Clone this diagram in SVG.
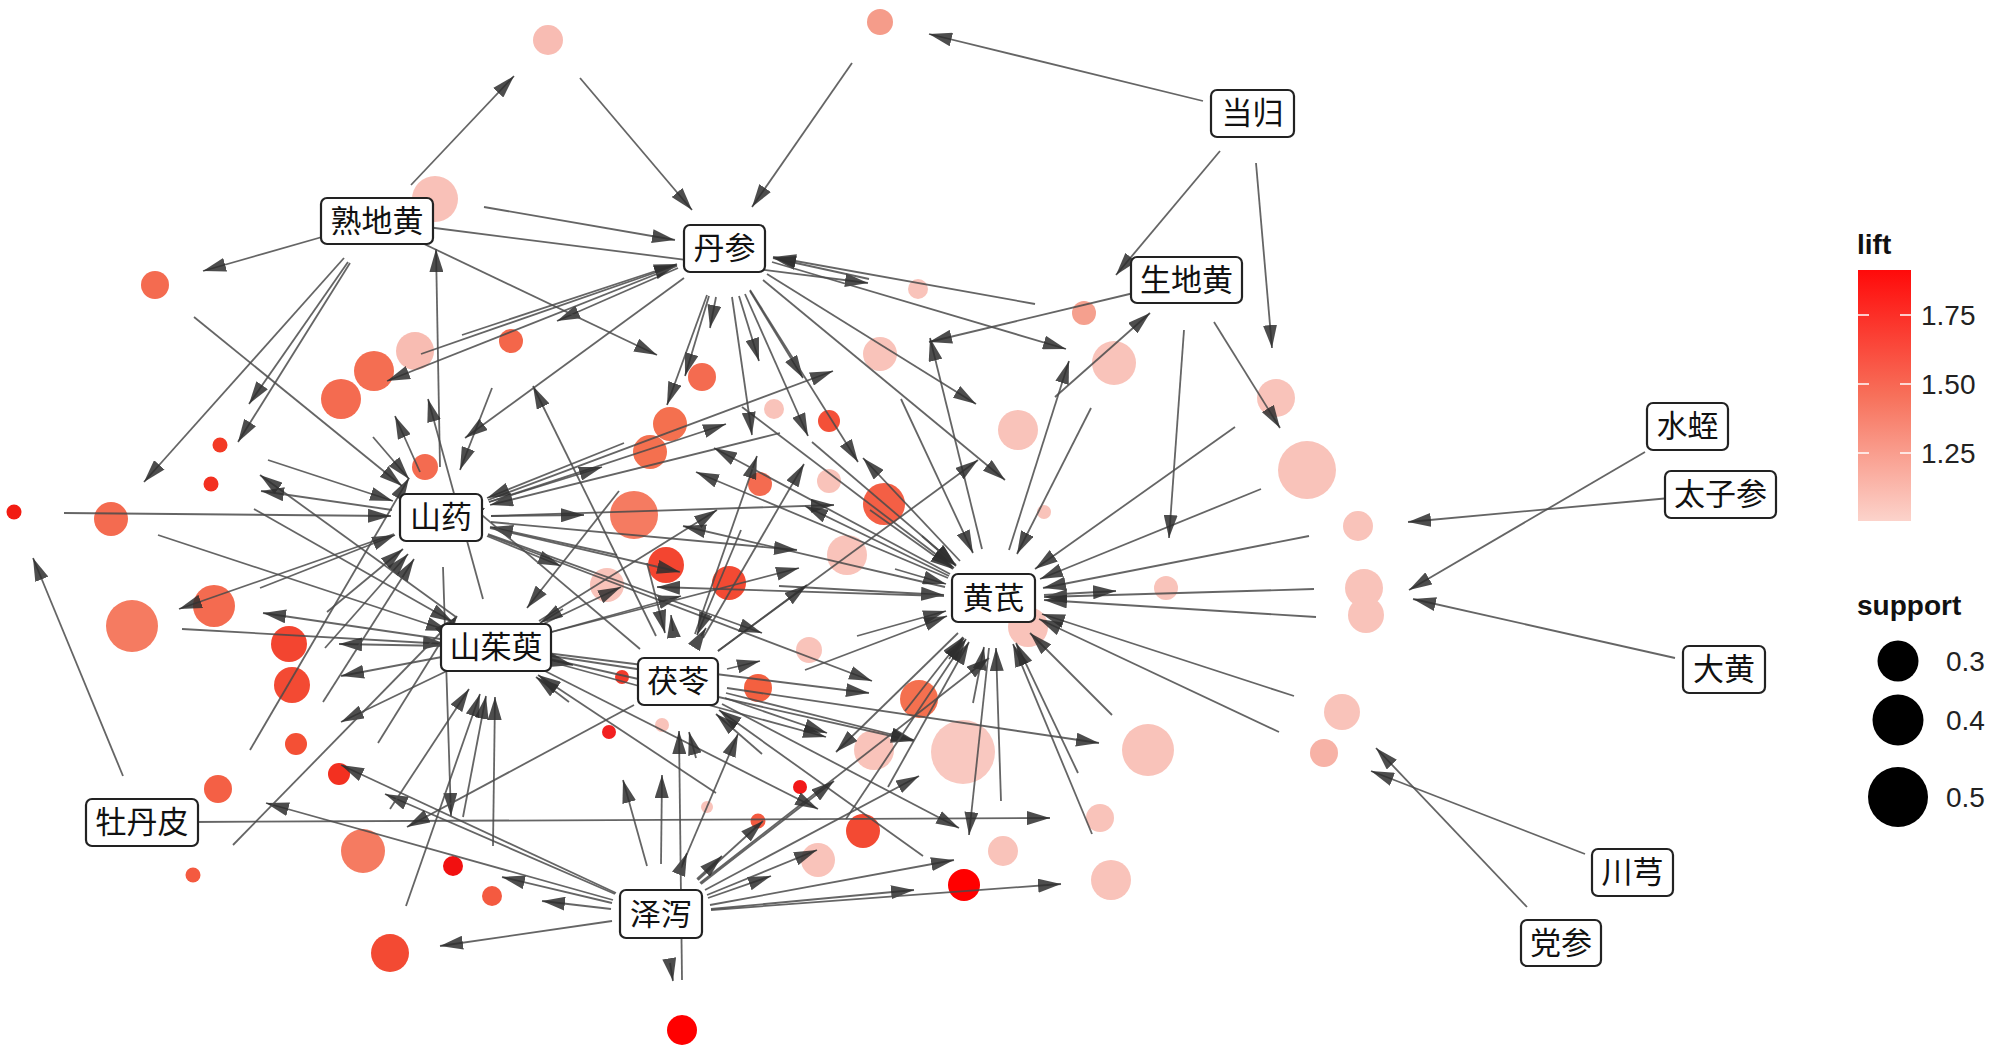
<svg xmlns="http://www.w3.org/2000/svg" width="2000" height="1055" viewBox="0 0 2000 1055">
<defs>
<marker id="ah" markerUnits="userSpaceOnUse" markerWidth="23" markerHeight="14" viewBox="0 0 23 14" refX="23" refY="7" orient="auto"><path d="M0,0 L23,7 L0,14 Z" fill="#2e2e2e" fill-opacity="0.85"/></marker>
<linearGradient id="lg" x1="0" y1="0" x2="0" y2="1"><stop offset="0" stop-color="#ff0a0a"/><stop offset="0.5" stop-color="#f7705a"/><stop offset="1" stop-color="#fcd3cb"/></linearGradient>
<style>
.e{stroke:#4a4a4a;stroke-width:1.8;stroke-opacity:0.85;fill:none;marker-end:url(#ah)}
.lb rect{fill:#fff;stroke:#222;stroke-width:2.2}
.lb text{font-family:"Noto Sans CJK SC","Noto Sans CJK JP",sans-serif;font-size:31px;text-anchor:middle;fill:#111}
.lp{fill:#f9c3ba}.sal{fill:#f59c8a}.cor{fill:#f46b50}.cor2{fill:#f57b61}.ro{fill:#f34a33}.rd{fill:#f21c12}.rr{fill:#ff0000}.sm{fill:#f45a40}
.lt{font-family:"Liberation Sans",Arial,sans-serif;font-size:28px;fill:#222}
.lh{font-family:"Liberation Sans",Arial,sans-serif;font-size:28px;font-weight:bold;fill:#111}
</style>
</defs>
<rect width="2000" height="1055" fill="#fff"/>
<g id="rules">
<g id="r1"><circle cx="548" cy="40" r="15" fill="#f8bcb3"/></g>
<g id="r2"><circle cx="880" cy="22" r="13" class="sal"/></g>
<g id="r3"><circle cx="435" cy="199" r="23" fill="#f9c1b8"/></g>
<g id="r4"><circle cx="155" cy="285" r="14" class="cor"/></g>
<g id="r5"><circle cx="918" cy="289" r="10" class="lp"/></g>
<g id="r6"><circle cx="1084" cy="313" r="12" fill="#f5a08e"/></g>
<g id="r7"><circle cx="880" cy="354" r="17" class="lp"/></g>
<g id="r8"><circle cx="1114" cy="363" r="22" class="lp"/></g>
<g id="r9"><circle cx="1276" cy="398" r="19" class="lp"/></g>
<g id="r10"><circle cx="1307" cy="470" r="29" class="lp"/></g>
<g id="r11"><circle cx="1358" cy="526" r="15" class="lp"/></g>
<g id="r12"><circle cx="1364" cy="588" r="19" class="lp"/></g>
<g id="r13"><circle cx="1366" cy="615" r="18" class="lp"/></g>
<g id="r14"><circle cx="1342" cy="712" r="18" class="lp"/></g>
<g id="r15"><circle cx="1324" cy="753" r="14" fill="#f7b2a6"/></g>
<g id="r16"><circle cx="1018" cy="430" r="20" class="lp"/></g>
<g id="r17"><circle cx="1044" cy="512" r="7" class="lp"/></g>
<g id="r18"><circle cx="1166" cy="588" r="12" class="lp"/></g>
<g id="r19"><circle cx="1028" cy="627" r="20" class="lp"/></g>
<g id="r20"><circle cx="963" cy="752" r="32" fill="#f9c8c0"/></g>
<g id="r21"><circle cx="1148" cy="750" r="26" class="lp"/></g>
<g id="r22"><circle cx="919" cy="699" r="19" fill="#f4704f"/></g>
<g id="r23"><circle cx="1100" cy="818" r="14" class="lp"/></g>
<g id="r24"><circle cx="1003" cy="851" r="15" class="lp"/></g>
<g id="r25"><circle cx="964" cy="885" r="16" class="rr"/></g>
<g id="r26"><circle cx="1111" cy="880" r="20" class="lp"/></g>
<g id="r27"><circle cx="511" cy="341" r="12" fill="#f4664a"/></g>
<g id="r28"><circle cx="702" cy="377" r="14" class="cor"/></g>
<g id="r29"><circle cx="774" cy="409" r="10" class="lp"/></g>
<g id="r30"><circle cx="829" cy="421" r="11" fill="#f45038"/></g>
<g id="r31"><circle cx="670" cy="424" r="17" fill="#f4704f"/></g>
<g id="r32"><circle cx="650" cy="452" r="17" fill="#f4704f"/></g>
<g id="r33"><circle cx="760" cy="484" r="12" class="cor"/></g>
<g id="r34"><circle cx="829" cy="481" r="12" class="lp"/></g>
<g id="r35"><circle cx="884" cy="504" r="21" fill="#f45f45"/></g>
<g id="r36"><circle cx="634" cy="515" r="24" class="cor2"/></g>
<g id="r37"><circle cx="666" cy="565" r="18" fill="#f34530"/></g>
<g id="r38"><circle cx="729" cy="583" r="17" class="ro"/></g>
<g id="r39"><circle cx="607" cy="585" r="17" class="lp"/></g>
<g id="r40"><circle cx="847" cy="555" r="20" class="lp"/></g>
<g id="r41"><circle cx="809" cy="650" r="13" class="lp"/></g>
<g id="r42"><circle cx="758" cy="688" r="14" fill="#f46040"/></g>
<g id="r43"><circle cx="622" cy="677" r="7" fill="#f33a2a"/></g>
<g id="r44"><circle cx="662" cy="725" r="7" class="lp"/></g>
<g id="r45"><circle cx="609" cy="732" r="7" fill="#f22020"/></g>
<g id="r46"><circle cx="874" cy="750" r="20" class="lp"/></g>
<g id="r47"><circle cx="800" cy="787" r="7" fill="#f21818"/></g>
<g id="r48"><circle cx="818" cy="860" r="17" class="lp"/></g>
<g id="r49"><circle cx="863" cy="831" r="17" class="ro"/></g>
<g id="r50"><circle cx="707" cy="807" r="6" class="lp"/></g>
<g id="r51"><circle cx="758" cy="821" r="7.5" class="sm"/></g>
<g id="r52"><circle cx="682" cy="1030" r="15" class="rr"/></g>
<g id="r53"><circle cx="492" cy="896" r="10" class="sm"/></g>
<g id="r54"><circle cx="453" cy="866" r="10" fill="#f21010"/></g>
<g id="r55"><circle cx="132" cy="626" r="26" class="cor2"/></g>
<g id="r56"><circle cx="214" cy="606" r="21" class="cor"/></g>
<g id="r57"><circle cx="289" cy="644" r="18" fill="#f34530"/></g>
<g id="r58"><circle cx="292" cy="685" r="18" class="ro"/></g>
<g id="r59"><circle cx="296" cy="744" r="11" fill="#f45035"/></g>
<g id="r60"><circle cx="218" cy="789" r="14" fill="#f46045"/></g>
<g id="r61"><circle cx="339" cy="774" r="11" fill="#f33020"/></g>
<g id="r62"><circle cx="363" cy="851" r="22" class="cor2"/></g>
<g id="r63"><circle cx="193" cy="875" r="7.5" class="sm"/></g>
<g id="r64"><circle cx="390" cy="953" r="19" class="ro"/></g>
<g id="r65"><circle cx="415" cy="351" r="19" fill="#f8bcb2"/></g>
<g id="r66"><circle cx="374" cy="371" r="20" fill="#f46e52"/></g>
<g id="r67"><circle cx="341" cy="399" r="20" class="cor"/></g>
<g id="r68"><circle cx="220" cy="445" r="7.5" fill="#f33a25"/></g>
<g id="r69"><circle cx="211" cy="484" r="7.5" fill="#f33020"/></g>
<g id="r70"><circle cx="14" cy="512" r="7.5" class="rd"/></g>
<g id="r71"><circle cx="111" cy="519" r="17" class="cor"/></g>
<g id="r72"><circle cx="425" cy="467" r="13" class="cor"/></g>
</g>
<g id="connectors">
<path class="e" d="M411,185L514,76"/><path class="e" d="M580,78L692,210"/><path class="e" d="M1203,101L929,34"/><path class="e" d="M852,63L752,207"/>
<path class="e" d="M484,207L675,240"/><path class="e" d="M440,467L436,249"/><path class="e" d="M329,235L203,271"/><path class="e" d="M194,317L402,486"/>
<path class="e" d="M427,227L868,283"/><path class="e" d="M982,549L930,338"/><path class="e" d="M869,279L773,258"/><path class="e" d="M1220,151L1116,275"/>
<path class="e" d="M1009,550L1069,361"/><path class="e" d="M1035,304L773,257"/><path class="e" d="M1138,292L929,342"/><path class="e" d="M488,500L833,371"/>
<path class="e" d="M901,399L973,553"/><path class="e" d="M772,262L1066,349"/><path class="e" d="M1091,408L1017,554"/><path class="e" d="M1256,163L1272,348"/>
<path class="e" d="M1235,427L1035,569"/><path class="e" d="M1214,322L1280,428"/><path class="e" d="M1261,489L1040,579"/><path class="e" d="M1670,498L1408,522"/>
<path class="e" d="M1309,536L1043,588"/><path class="e" d="M1645,452L1409,590"/><path class="e" d="M1675,658L1413,599"/><path class="e" d="M1314,589L1044,597"/>
<path class="e" d="M1316,617L1044,600"/><path class="e" d="M1527,907L1376,748"/><path class="e" d="M1294,696L1042,614"/><path class="e" d="M1585,854L1371,771"/>
<path class="e" d="M1279,732L1039,619"/><path class="e" d="M767,274L976,404"/><path class="e" d="M718,651L978,460"/><path class="e" d="M1055,397L1150,313"/>
<path class="e" d="M763,280L1005,480"/><path class="e" d="M1184,330L1169,538"/><path class="e" d="M1044,595L1116,591"/><path class="e" d="M700,883L989,658"/>
<path class="e" d="M545,658L914,741"/><path class="e" d="M726,693L914,740"/><path class="e" d="M705,890L919,776"/><path class="e" d="M973,703L984,647"/>
<path class="e" d="M727,688L1099,743"/><path class="e" d="M1112,715L1030,633"/><path class="e" d="M488,535L872,681"/><path class="e" d="M546,653L869,693"/>
<path class="e" d="M949,659L964,638"/><path class="e" d="M192,822L1050,818"/><path class="e" d="M1078,773L1016,643"/><path class="e" d="M722,704L959,828"/>
<path class="e" d="M710,905L954,860"/><path class="e" d="M1001,801L996,648"/><path class="e" d="M989,648L969,835"/><path class="e" d="M711,909L914,890"/>
<path class="e" d="M923,856L719,710"/><path class="e" d="M711,910L1061,884"/><path class="e" d="M1092,834L1013,644"/><path class="e" d="M678,268L557,321"/>
<path class="e" d="M656,636L533,386"/><path class="e" d="M492,388L460,470"/><path class="e" d="M422,243L657,355"/><path class="e" d="M716,297L710,328"/>
<path class="e" d="M742,407L954,568"/><path class="e" d="M739,296L759,361"/><path class="e" d="M489,502L726,424"/><path class="e" d="M695,634L757,456"/>
<path class="e" d="M812,442L956,565"/><path class="e" d="M750,291L803,378"/><path class="e" d="M703,638L804,464"/><path class="e" d="M960,561L863,458"/>
<path class="e" d="M780,433L490,505"/><path class="e" d="M709,296L685,376"/><path class="e" d="M950,574L714,448"/><path class="e" d="M624,443L487,498"/>
<path class="e" d="M707,295L667,405"/><path class="e" d="M489,502L602,467"/><path class="e" d="M948,578L696,472"/><path class="e" d="M619,491L527,608"/>
<path class="e" d="M732,297L752,435"/><path class="e" d="M539,621L717,510"/><path class="e" d="M949,576L805,506"/><path class="e" d="M741,530L697,635"/>
<path class="e" d="M745,294L808,436"/><path class="e" d="M870,510L953,569"/><path class="e" d="M750,290L858,462"/><path class="e" d="M491,516L834,505"/>
<path class="e" d="M922,536L956,566"/><path class="e" d="M491,516L584,515"/><path class="e" d="M945,587L683,526"/><path class="e" d="M647,563L665,633"/>
<path class="e" d="M673,631L671,615"/><path class="e" d="M541,625L621,587"/><path class="e" d="M617,555L490,527"/><path class="e" d="M701,636L706,628"/>
<path class="e" d="M544,634L681,596"/><path class="e" d="M490,528L680,572"/><path class="e" d="M779,586L944,595"/><path class="e" d="M487,536L561,566"/>
<path class="e" d="M944,596L657,587"/><path class="e" d="M563,609L540,623"/><path class="e" d="M491,522L797,550"/><path class="e" d="M718,651L807,585"/>
<path class="e" d="M544,634L799,568"/><path class="e" d="M895,569L946,584"/><path class="e" d="M488,534L762,633"/><path class="e" d="M727,669L760,661"/>
<path class="e" d="M857,636L946,611"/><path class="e" d="M545,655L709,680"/><path class="e" d="M681,868L738,734"/><path class="e" d="M805,670L947,616"/>
<path class="e" d="M545,659L573,665"/><path class="e" d="M661,864L662,775"/><path class="e" d="M647,866L623,780"/><path class="e" d="M569,702L536,677"/>
<path class="e" d="M701,884L834,781"/><path class="e" d="M544,660L826,737"/><path class="e" d="M725,698L827,733"/><path class="e" d="M905,711L963,637"/>
<path class="e" d="M698,880L763,821"/><path class="e" d="M958,633L836,752"/><path class="e" d="M762,754L716,714"/><path class="e" d="M708,898L771,876"/>
<path class="e" d="M846,819L966,639"/><path class="e" d="M707,895L817,850"/><path class="e" d="M541,669L818,809"/><path class="e" d="M888,787L969,642"/>
<path class="e" d="M681,868L687,853"/><path class="e" d="M697,879L722,856"/><path class="e" d="M716,793L538,675"/><path class="e" d="M670,963L673,981"/>
<path class="e" d="M682,980L679,731"/><path class="e" d="M611,909L542,901"/><path class="e" d="M493,846L495,697"/><path class="e" d="M612,903L502,877"/>
<path class="e" d="M443,567L451,816"/><path class="e" d="M463,817L486,696"/><path class="e" d="M394,534L179,609"/><path class="e" d="M182,629L446,644"/>
<path class="e" d="M447,640L263,613"/><path class="e" d="M260,588L395,535"/><path class="e" d="M446,646L339,644"/><path class="e" d="M327,612L403,549"/>
<path class="e" d="M447,656L341,676"/><path class="e" d="M325,648L408,554"/><path class="e" d="M451,669L341,722"/><path class="e" d="M616,893L341,765"/>
<path class="e" d="M323,702L414,559"/><path class="e" d="M613,900L266,803"/><path class="e" d="M250,750L409,478"/><path class="e" d="M615,894L385,794"/>
<path class="e" d="M378,743L457,616"/><path class="e" d="M634,705L407,827"/><path class="e" d="M390,809L469,689"/><path class="e" d="M233,845L456,617"/>
<path class="e" d="M612,921L440,946"/><path class="e" d="M406,906L480,694"/><path class="e" d="M483,599L428,399"/><path class="e" d="M462,335L677,264"/>
<path class="e" d="M420,472L395,416"/><path class="e" d="M421,354L677,265"/><path class="e" d="M677,266L387,381"/><path class="e" d="M373,437L409,479"/>
<path class="e" d="M348,262L249,404"/><path class="e" d="M456,617L260,475"/><path class="e" d="M268,460L393,501"/><path class="e" d="M350,263L238,442"/>
<path class="e" d="M392,510L261,491"/><path class="e" d="M254,509L453,622"/><path class="e" d="M123,776L33,558"/><path class="e" d="M64,513L391,516"/>
<path class="e" d="M344,258L144,482"/><path class="e" d="M158,535L449,631"/><path class="e" d="M684,278L465,438"/><path class="e" d="M640,649L463,499"/>
<path class="e" d="M696,758L689,732"/>
</g>
<g id="items" class="lb">
<g id="n-shudihuang"><rect x="321" y="198" width="112" height="46" rx="6"/><text x="377" y="232">熟地黄</text></g>
<g id="n-danshen"><rect x="684" y="225" width="81" height="47" rx="6"/><text x="724.5" y="259">丹参</text></g>
<g id="n-danggui"><rect x="1211" y="90" width="83" height="47" rx="6"/><text x="1252.5" y="124">当归</text></g>
<g id="n-shengdihuang"><rect x="1131" y="257" width="111" height="46" rx="6"/><text x="1186.5" y="291">生地黄</text></g>
<g id="n-shanyao"><rect x="400" y="494" width="82" height="47" rx="6"/><text x="441" y="528">山药</text></g>
<g id="n-shanzhuyu"><rect x="441" y="624" width="110" height="47" rx="6"/><text x="496" y="658">山茱萸</text></g>
<g id="n-fuling"><rect x="638" y="658" width="80" height="47" rx="6"/><text x="678" y="692">茯苓</text></g>
<g id="n-zexie"><rect x="620" y="890" width="82" height="48" rx="6"/><text x="661" y="925">泽泻</text></g>
<g id="n-huangqi"><rect x="952" y="574" width="83" height="48" rx="6"/><text x="993.5" y="609">黄芪</text></g>
<g id="n-mudanpi"><rect x="86" y="799" width="112" height="47" rx="6"/><text x="142" y="833">牡丹皮</text></g>
<g id="n-shuizhi"><rect x="1647" y="403" width="81" height="47" rx="6"/><text x="1687.5" y="437">水蛭</text></g>
<g id="n-taizishen"><rect x="1665" y="471" width="111" height="47" rx="6"/><text x="1720.5" y="505">太子参</text></g>
<g id="n-dahuang"><rect x="1683" y="646" width="82" height="47" rx="6"/><text x="1724" y="680">大黄</text></g>
<g id="n-chuanxiong"><rect x="1592" y="849" width="81" height="47" rx="6"/><text x="1632.5" y="883">川芎</text></g>
<g id="n-dangshen"><rect x="1521" y="920" width="80" height="46" rx="6"/><text x="1561" y="954">党参</text></g>
</g>
<g id="legend">
<text class="lh" x="1857" y="254">lift</text>
<rect x="1858" y="270" width="53" height="251" fill="url(#lg)"/>
<g stroke="#fff" stroke-width="1.5">
<line x1="1858" y1="315" x2="1869" y2="315"/><line x1="1900" y1="315" x2="1911" y2="315"/>
<line x1="1858" y1="384" x2="1869" y2="384"/><line x1="1900" y1="384" x2="1911" y2="384"/>
<line x1="1858" y1="453" x2="1869" y2="453"/><line x1="1900" y1="453" x2="1911" y2="453"/>
</g>
<text class="lt" x="1921" y="325">1.75</text>
<text class="lt" x="1921" y="394">1.50</text>
<text class="lt" x="1921" y="463">1.25</text>
<text class="lh" x="1857" y="615">support</text>
<circle cx="1898" cy="661" r="20.5" fill="#000"/>
<circle cx="1898" cy="720" r="25.5" fill="#000"/>
<circle cx="1898" cy="797" r="30" fill="#000"/>
<text class="lt" x="1946" y="671">0.3</text>
<text class="lt" x="1946" y="730">0.4</text>
<text class="lt" x="1946" y="807">0.5</text>
</g>
</svg>
